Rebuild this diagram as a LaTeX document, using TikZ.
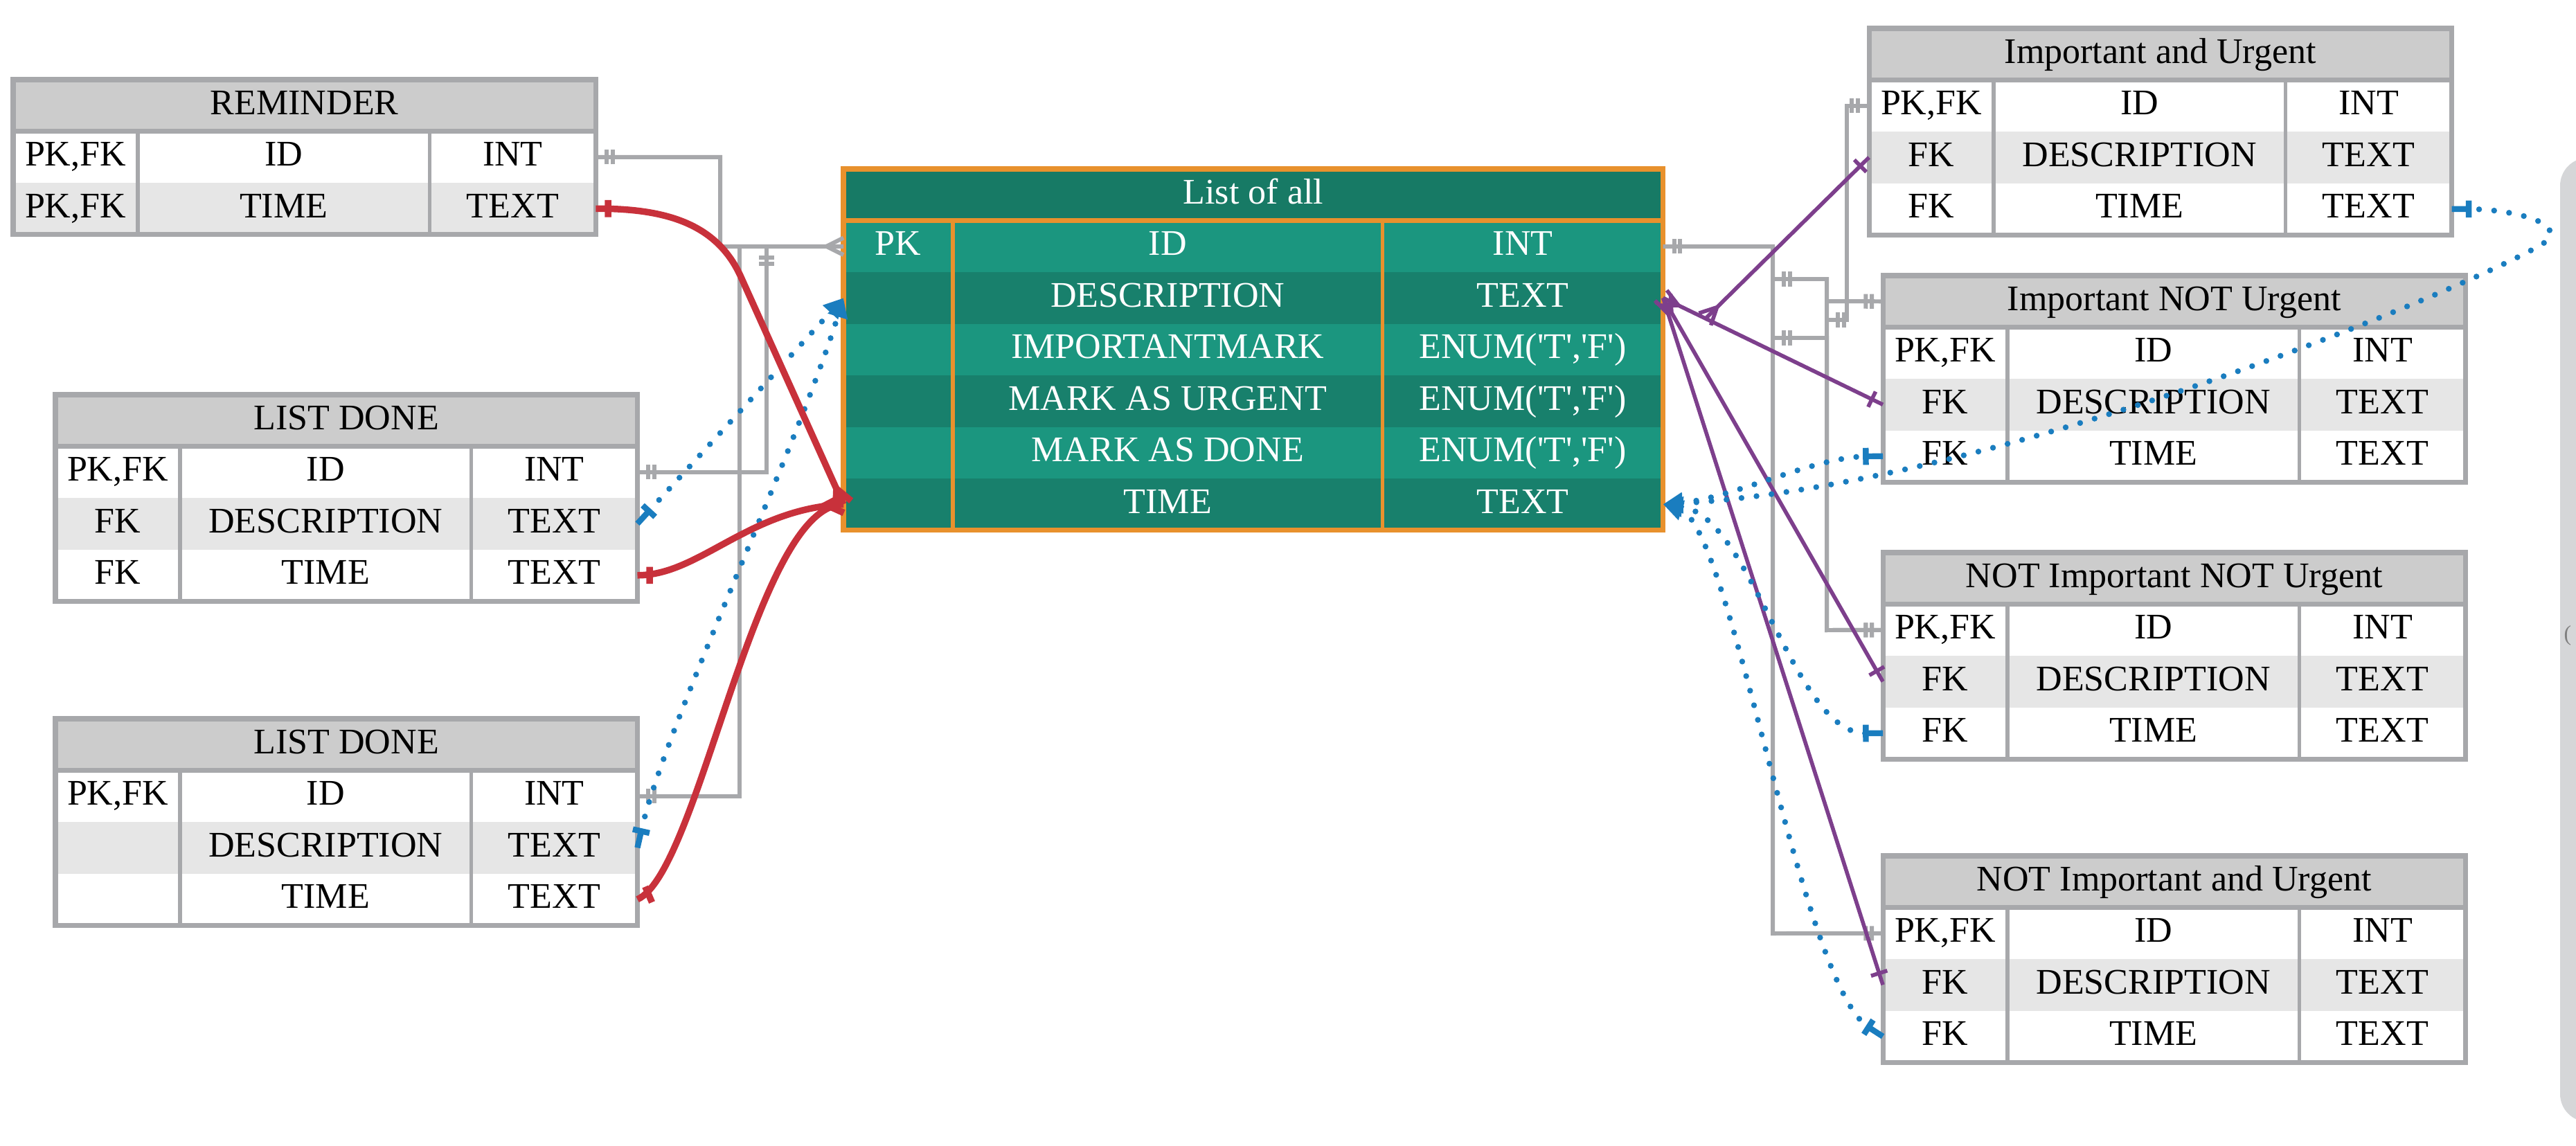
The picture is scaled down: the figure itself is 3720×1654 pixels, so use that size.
\documentclass[tikz,border=0pt]{standalone}
\usepackage{fontspec}
\setmainfont{Liberation Serif}[Ligatures=TeXOff]
\usetikzlibrary{arrows.meta}

\definecolor{ergray}{HTML}{A7A8AB}
\definecolor{erheadfill}{HTML}{CCCCCC}
\definecolor{erstripe}{HTML}{E6E6E6}
\definecolor{tealhead}{HTML}{177A65}
\definecolor{teallight}{HTML}{1B967F}
\definecolor{tealdark}{HTML}{18806C}
\definecolor{erorange}{HTML}{E8912D}
\definecolor{erred}{HTML}{C8313B}
\definecolor{erblue}{HTML}{1A7DBF}
\definecolor{erpurple}{HTML}{7D3F8C}
\definecolor{panelgray}{HTML}{D5D6D8}

% crow's foot (many)
\pgfdeclarearrow{
	name = ercrow,
	setup code = {
		\pgfarrowssettipend{0pt}
		\pgfarrowssetlineend{0pt}
		\pgfarrowssetbackend{-7pt}
		\pgfarrowshullpoint{0pt}{3.5pt}
		\pgfarrowshullpoint{0pt}{-3.5pt}
		\pgfarrowshullpoint{-7pt}{0pt}
	},
	drawing code = {
		\pgfsetdash{}{0pt}
		\pgfpathmoveto{\pgfqpoint{0pt}{3.5pt}}
		\pgfpathlineto{\pgfqpoint{-7pt}{0pt}}
		\pgfpathlineto{\pgfqpoint{0pt}{-3.5pt}}
		\pgfusepathqstroke
	}
}
% mandatory one
\pgfdeclarearrow{
	name = ermandone,
	setup code = {
		\pgfarrowssettipend{0pt}
		\pgfarrowssetlineend{0pt}
		\pgfarrowssetbackend{-8pt}
		\pgfarrowshullpoint{0pt}{3pt}
		\pgfarrowshullpoint{-8pt}{3pt}
		\pgfarrowshullpoint{-8pt}{-3pt}
		\pgfarrowshullpoint{0pt}{-3pt}
	},
	drawing code = {
		\pgfsetdash{}{0pt}
		\pgfsetbuttcap
		\pgfpathmoveto{\pgfqpoint{-4.5pt}{3pt}}
		\pgfpathlineto{\pgfqpoint{-4.5pt}{-3pt}}
		\pgfpathmoveto{\pgfqpoint{-7pt}{3pt}}
		\pgfpathlineto{\pgfqpoint{-7pt}{-3pt}}
		\pgfusepathqstroke
	}
}
% one
\pgfdeclarearrow{
	name = erone,
	setup code = {
		\pgfarrowssettipend{0pt}
		\pgfarrowssetlineend{0pt}
		\pgfarrowssetbackend{-6pt}
		\pgfarrowshullpoint{0pt}{3.5pt}
		\pgfarrowshullpoint{-6pt}{3.5pt}
		\pgfarrowshullpoint{-6pt}{-3.5pt}
		\pgfarrowshullpoint{0pt}{-3.5pt}
	},
	drawing code = {
		\pgfsetdash{}{0pt}
		\pgfsetbuttcap
		\pgfpathmoveto{\pgfqpoint{-5pt}{3.5pt}}
		\pgfpathlineto{\pgfqpoint{-5pt}{-3.5pt}}
		\pgfusepathqstroke
	}
}
% tee for the dotted links
\pgfdeclarearrow{
	name = ertee,
	setup code = {
		\pgfarrowssettipend{0pt}
		\pgfarrowssetlineend{-7pt}
		\pgfarrowssetbackend{-8pt}
		\pgfarrowshullpoint{0pt}{3.5pt}
		\pgfarrowshullpoint{-8pt}{3.5pt}
		\pgfarrowshullpoint{-8pt}{-3.5pt}
		\pgfarrowshullpoint{0pt}{-3.5pt}
	},
	drawing code = {
		\pgfsetdash{}{0pt}
		\pgfsetbuttcap
		\pgfpathmoveto{\pgfqpoint{-7pt}{3.5pt}}
		\pgfpathlineto{\pgfqpoint{-7pt}{-3.5pt}}
		\pgfpathmoveto{\pgfqpoint{-7pt}{0pt}}
		\pgfpathlineto{\pgfqpoint{0pt}{0pt}}
		\pgfusepathqstroke
	}
}

\tikzset{
	er cell/.style={anchor=north west, inner sep=0pt, outer sep=0pt,
		minimum height=0.745cm, text height=9pt, text depth=1.5pt,
		font=\fontsize{14.8}{17}\selectfont},
	er head/.style={er cell, fill=erheadfill},
	er odd/.style={fill=white},
	er even/.style={fill=erstripe},
	er rule/.style={draw=ergray, line width=1.5pt},
	er frame/.style={draw=ergray, line width=2pt},
	gray link/.style={draw=ergray, line width=1.7pt},
	red link/.style={draw=erred, line width=2.7pt},
	blue link/.style={draw=erblue, line width=2.4pt, line cap=round,
		dash pattern=on 0pt off 6.2pt},
	purple link/.style={draw=erpurple, line width=1.6pt},
	dottip/.tip={Triangle[length=8pt, width=8pt]}
}

% name, left, top, key/field/type widths (cm), title, rows
\newcommand{\ertable}[8]{%
	\node[er head, minimum width={(#4+#5+#6)*1cm}] (#1-h) at (#2,#3) {#7};
	\foreach \k/\f/\t [count=\i] in {#8}{%
		\ifodd\i \tikzset{er row/.style={er odd}}\else\tikzset{er row/.style={er even}}\fi
		\node[er cell, er row, minimum width=#4cm] (#1-\i-k) at (#2,{#3+74.5*\i}) {\k};
		\node[er cell, er row, minimum width=#5cm] (#1-\i-f) at (#1-\i-k.north east) {\f};
		\node[er cell, er row, minimum width=#6cm] (#1-\i-t) at (#1-\i-f.north east) {\t};
		\xdef\erlast{\i}%
	}
	\draw[er rule] (#1-1-k.north east) -- (#1-\erlast-k.south east)
		(#1-1-f.north east) -- (#1-\erlast-f.south east);
	\draw[er frame] (#1-h.south west) -- (#1-h.south east)
		(#1-h.north west) rectangle (#1-\erlast-t.south east);
}

\begin{document}
\begin{tikzpicture}[x=0.01cm, y=-0.01cm]
	\useasboundingbox (0,0) rectangle (3720,1654);
	\fill[panelgray, rounded corners=0.4cm] (3697,228) rectangle (3800,1620);
	\node[anchor=west, inner sep=0pt, text=gray, font=\fontsize{9}{10}\selectfont] (paren) at (3702,918) {(};

	\ertable{rem}{19}{115}{1.8}{4.21}{2.4}{REMINDER}
		{{PK,FK}/ID/INT, {PK,FK}/TIME/TEXT}
	\ertable{ldA}{80}{570}{1.8}{4.2}{2.4}{LIST DONE}
		{{PK,FK}/ID/INT, FK/DESCRIPTION/TEXT, FK/TIME/TEXT}
	\ertable{ldB}{80}{1038}{1.8}{4.2}{2.4}{LIST DONE}
		{{PK,FK}/ID/INT, /DESCRIPTION/TEXT, /TIME/TEXT}
	\begin{scope}[er head/.append style={fill=tealhead, text=white},
		er odd/.style={fill=teallight, text=white},
		er even/.style={fill=tealdark, text=white},
		er rule/.style={draw=erorange, line width=1.6pt},
		er frame/.style={draw=erorange, line width=2pt}]
		\ertable{all}{1218}{244}{1.58}{6.2}{4.05}{List of all}
			{PK/ID/INT, /DESCRIPTION/TEXT, /IMPORTANTMARK/{ENUM('T','F')},
			 /MARK AS URGENT/{ENUM('T','F')}, /MARK AS DONE/{ENUM('T','F')}, /TIME/TEXT}
	\end{scope}
	\ertable{iu}{2699}{41}{1.8}{4.21}{2.4}{Important and Urgent}
		{{PK,FK}/ID/INT, FK/DESCRIPTION/TEXT, FK/TIME/TEXT}
	\ertable{inu}{2719}{398}{1.8}{4.21}{2.4}{Important NOT Urgent}
		{{PK,FK}/ID/INT, FK/DESCRIPTION/TEXT, FK/TIME/TEXT}
	\ertable{ninu}{2719}{798}{1.8}{4.21}{2.4}{NOT Important NOT Urgent}
		{{PK,FK}/ID/INT, FK/DESCRIPTION/TEXT, FK/TIME/TEXT}
	\ertable{niu}{2719}{1236}{1.8}{4.21}{2.4}{NOT Important and Urgent}
		{{PK,FK}/ID/INT, FK/DESCRIPTION/TEXT, FK/TIME/TEXT}

	% left side
	\coordinate (ldAjoin) at (1107,356);
	\coordinate (ldBjoin) at (1068,356);
	\draw[gray link, ermandone-ercrow] (rem-1-t.east) -| (1040,356) -- (all-1-k.west);
	\draw[gray link, ermandone-ermandone] (ldA-1-t.east) -| (ldAjoin);
	\draw[gray link, ermandone-] (ldB-1-t.east) -| (ldBjoin);

	\draw[blue link, ertee-dottip] (ldA-2-t.east) -- (all-2-k.west);
	\draw[blue link, ertee-dottip] (ldB-2-t.east) .. controls (960,1050) and (1150,650) .. (all-2-k.west);

	\draw[red link, erone-ercrow] (rem-2-t.east) .. controls (960,301) and (1035,322) .. (1070,400) -- (all-6-k.west);
	\draw[red link, erone-ercrow] (ldA-3-t.east) .. controls (1010,831) and (1080,735) .. (all-6-k.west);
	\draw[red link, erone-ercrow] (ldB-3-t.east) .. controls (1010,1260) and (1090,730) .. (all-6-k.west);

	% right side
	\coordinate (qA) at (2560,403);
	\coordinate (qB) at (2560,488);
	\coordinate (qD) at (2638,462);
	\coordinate (qE) at (2638,435);
	\coordinate (iufork) at (2462,461);
	\draw[gray link, ermandone-ermandone] (all-1-t.east) -| (2560,1348) -- (niu-1-k.west);
	\draw[gray link, ermandone-ermandone] (qA) -| (2638,910) -- (ninu-1-k.west);
	\draw[gray link, ermandone-ermandone] (qB) -| (2638,910) -- (ninu-1-k.west);
	\draw[gray link, ermandone-ermandone] (iu-1-k.west) -| (2667,462) -- (qD);
	\draw[gray link, ermandone-] (inu-h.west) -- (qE);

	\draw[purple link, erone-ercrow] (iu-2-k.west) -- (iufork);
	\draw[purple link, ercrow-erone] (all-2-t.east) -- (inu-2-k.west);
	\draw[purple link, ercrow-erone] (all-2-t.east) -- (ninu-2-k.west);
	\draw[purple link, ercrow-erone] (all-2-t.east) -- (niu-2-k.west);

	\draw[blue link, dottip-ertee] (all-6-t.east) .. controls (2900,700) and (3600,400) .. (3675,350)
		.. controls (3710,320) and (3620,302) .. (iu-3-t.east);
	\draw[blue link, dottip-ertee] (all-6-t.east) .. controls (2500,720) and (2620,660) .. (inu-3-k.west);
	\draw[blue link, dottip-ertee] (all-6-t.east) .. controls (2530,745) and (2590,1060) .. (ninu-3-k.west);
	\draw[blue link, dottip-ertee] (all-6-t.east) .. controls (2500,760) and (2600,1420) .. (niu-3-k.west);
\end{tikzpicture}
\end{document}
